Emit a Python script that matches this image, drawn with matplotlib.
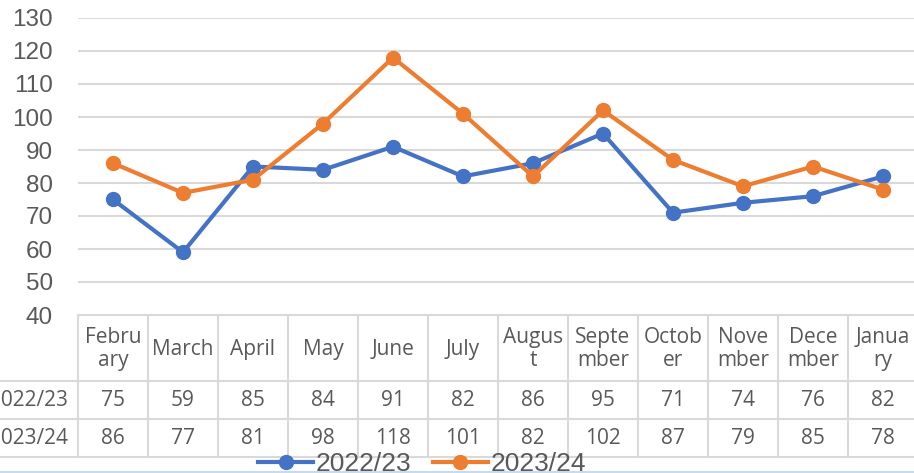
import numpy as np
import matplotlib.pyplot as plt
from matplotlib.transforms import blended_transform_factory

months = ['Febru\nary', 'March', 'April', 'May', 'June', 'July', 'Augus\nt',
          'Septe\nmber', 'Octob\ner', 'Nove\nmber', 'Dece\nmber', 'Janua\nry']
s2223 = [75, 59, 85, 84, 91, 82, 86, 95, 71, 74, 76, 82]
s2324 = [86, 77, 81, 98, 118, 101, 82, 102, 87, 79, 85, 78]
names = ['2022/23', '2023/24']
colors = ['#4472C4', '#ED7D31']
yticks = np.arange(40, 131, 10)

W, H = 914, 473
fig = plt.figure(figsize=(W / 100, H / 100), dpi=100)
grey = '#595959'
gridc = '#d9d9d9'

# overlay axes in pixel coords for the table
tax = fig.add_axes([0, 0, 1, 1])
tax.set_xlim(0, W)
tax.set_ylim(H, 0)
tax.axis('off')

ax = fig.add_axes([78 / W, 1 - 315 / H, 840 / W, 297 / H])
x = np.arange(len(months)) + 0.5
lines = []
for vals, c, n in zip([s2223, s2324], colors, names):
    l, = ax.plot(x, vals, color=c, lw=3, marker='o', ms=10, label=n, zorder=3)
    lines.append(l)
ax.set_xlim(0, 12)
ax.set_ylim(40, 130)
ax.set_yticks(yticks)
ax.yaxis.grid(True, color=gridc, lw=1.5)
ax.set_axisbelow(True)
ax.set_xticks([])
for s in ax.spines.values():
    s.set_visible(False)
ax.tick_params(axis='y', length=0, pad=18, labelsize=17.5, labelcolor=grey)
for t in ax.get_yticklabels():
    t.set_fontfamily('Liberation Sans')

# data table
tr = blended_transform_factory(ax.transData, tax.transData)
rows_y = [315, 381, 419, 457]
lw = 1.5
tax.plot([0, 12], [rows_y[0], rows_y[0]], color=gridc, lw=lw, transform=tr, clip_on=False)
for yy in rows_y[1:]:
    tax.plot([-78 / 70, 12], [yy, yy], color=gridc, lw=lw, transform=tr, clip_on=False)
for i in range(13):
    tax.plot([i, i], [rows_y[0], rows_y[-1]], color=gridc, lw=lw, transform=tr, clip_on=False)
tfont = dict(fontfamily='Open Sans', fontsize=15, color=grey, ha='center', va='center')
for i, m in enumerate(months):
    tax.text(x[i], (rows_y[0] + rows_y[1]) / 2 + 1, m, transform=tr, linespacing=1.15, **tfont)
    tax.text(x[i], (rows_y[1] + rows_y[2]) / 2, str(s2223[i]), transform=tr, **tfont)
    tax.text(x[i], (rows_y[2] + rows_y[3]) / 2, str(s2324[i]), transform=tr, **tfont)
for r, n in enumerate(names):
    tax.text(68, (rows_y[r + 1] + rows_y[r + 2]) / 2, n, fontfamily='Open Sans', fontsize=15,
             color=grey, ha='right', va='center')

tax.axhline(472, color='#c5dcf0', lw=1.5)

leg = fig.legend(handles=lines, loc='center', bbox_to_anchor=(422 / W, 1 - 464 / H), ncol=2,
                 frameon=False, prop={'family': 'Liberation Sans', 'size': 19},
                 handlelength=2.1, handletextpad=0.1, columnspacing=0.8,
                 borderpad=0, borderaxespad=0)
for t in leg.get_texts():
    t.set_color(grey)

fig.savefig('out.png', dpi=100)
